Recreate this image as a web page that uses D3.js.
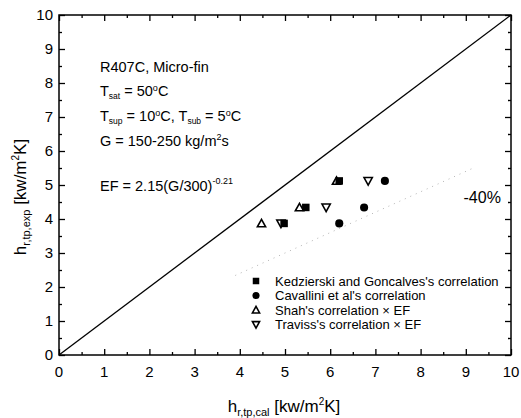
<!DOCTYPE html>
<html>
  <head>
    <meta charset="utf-8">
    <script src="https://d3js.org/d3.v7.min.js"></script>
    <style>
      body { margin: 0; background: #fff; }
      text { font-family: Arial, "Liberation Sans", sans-serif; fill: #000; }
    </style>
  </head>
<body>
  <script type="text/javascript">
    // experimental h values (y) shared by every correlation
    var hExp = [3.87, 4.34, 5.12];
    // calculated h values (x) per correlation
    var kedzierski = [4.98, 5.46, 6.20];
    var cavallini = [6.20, 6.75, 7.21];
    var shah = [4.48, 5.32, 6.14];
    var traviss = [4.91, 5.91, 6.84];
    var seriesNames = ["Kedzierski and Goncalves's correlation",
                       "Cavallini et al's correlation",
                       "Shah's correlation \u00d7 EF",
                       "Traviss's correlation \u00d7 EF"];
    var seriesX = [kedzierski, cavallini, shah, traviss];
    var seriesShape = ["square", "circle", "up", "down"];
    var majorTicks = [0, 1, 2, 3, 4, 5, 6, 7, 8, 9, 10];
    var minorTicks = [0.5, 1.5, 2.5, 3.5, 4.5, 5.5, 6.5, 7.5, 8.5, 9.5];
    var minus40 = [3.9, 9.15];

    var W = 521, H = 418;
    var m = {left: 59, top: 15, right: 10, bottom: 63};
    var w = W - m.left - m.right, h = H - m.top - m.bottom;

    var svg = d3.select("body").append("svg")
      .attr("width", W).attr("height", H);
    var g = svg.append("g").attr("transform", "translate(" + m.left + "," + m.top + ")");

    var x = d3.scaleLinear().domain([0, 10]).range([0, w]);
    var y = d3.scaleLinear().domain([0, 10]).range([h, 0]);

    // frame
    g.append("rect").attr("width", w).attr("height", h)
      .attr("fill", "none").attr("stroke", "#000").attr("stroke-width", 1.5);

    // ticks, all inward on four sides
    function ticks(axisFn, scale, vals, len, tr) {
      g.append("g").attr("transform", tr)
        .call(axisFn(scale).tickValues(vals).tickSize(len).tickFormat(""))
        .call(function(s){ s.select(".domain").remove(); s.selectAll("line").attr("stroke", "#000").attr("stroke-width", 1.3); });
    }
    ticks(d3.axisTop, x, majorTicks, 6, "translate(0," + h + ")");
    ticks(d3.axisTop, x, minorTicks, 3, "translate(0," + h + ")");
    ticks(d3.axisBottom, x, majorTicks, 6, "translate(0,0)");
    ticks(d3.axisBottom, x, minorTicks, 3, "translate(0,0)");
    ticks(d3.axisRight, y, majorTicks, 6, "translate(0,0)");
    ticks(d3.axisRight, y, minorTicks, 3, "translate(0,0)");
    ticks(d3.axisLeft, y, majorTicks, 6, "translate(" + w + ",0)");
    ticks(d3.axisLeft, y, minorTicks, 3, "translate(" + w + ",0)");

    // tick labels
    g.append("g").selectAll("text").data(majorTicks).join("text")
      .attr("x", function(d){ return x(d); }).attr("y", h + 22)
      .attr("text-anchor", "middle").attr("font-size", 15).text(function(d){ return d; });
    g.append("g").selectAll("text").data(majorTicks).join("text")
      .attr("x", -6).attr("y", function(d){ return y(d) + 5; })
      .attr("text-anchor", "end").attr("font-size", 15).text(function(d){ return d; });

    // y = x line
    var line = d3.line().x(function(d){ return x(d); }).y(function(d){ return y(d); });
    g.append("path").datum([0, 10]).attr("d", line)
      .attr("fill", "none").attr("stroke", "#000").attr("stroke-width", 1.3);

    // -40% line
    g.append("path").datum(minus40)
      .attr("d", d3.line().x(function(d){ return x(d); }).y(function(d){ return y(0.6 * d); }))
      .attr("fill", "none").attr("stroke", "#b5b5b5").attr("stroke-width", 1)
      .attr("stroke-dasharray", "1,5");
    g.append("text").attr("x", x(8.95)).attr("y", y(4.47))
      .attr("font-size", 16).text("-40%");

    // markers
    function marker(sel, shape, s) {
      if (shape === "square") {
        sel.append("rect").attr("x", -s/2).attr("y", -s/2).attr("width", s).attr("height", s).attr("fill", "#000");
      } else if (shape === "circle") {
        sel.append("circle").attr("r", s/2 + 0.3).attr("fill", "#000");
      } else {
        var k = shape === "up" ? 1 : -1;
        var pts = [[0, -k*s*0.55], [s*0.55, k*s*0.45], [-s*0.55, k*s*0.45]];
        sel.append("path").attr("d", "M" + pts.join("L") + "Z")
          .attr("fill", "none").attr("stroke", "#000").attr("stroke-width", 1.6);
      }
    }
    seriesX.forEach(function(xs, i) {
      var pts = xs.map(function(v, j){ return [v, hExp[j]]; });
      g.append("g").selectAll("g").data(pts).join("g")
        .attr("transform", function(d){ return "translate(" + x(d[0]) + "," + y(d[1]) + ")"; })
        .each(function(){ marker(d3.select(this), seriesShape[i], 7.5); });
    });

    // legend
    var lg = g.append("g").attr("transform", "translate(" + (256 - m.left) + "," + (281 - m.top) + ")");
    seriesNames.forEach(function(name, i) {
      var row = lg.append("g").attr("transform", "translate(0," + i * 14.5 + ")");
      marker(row, seriesShape[i], 6.5);
      row.append("text").attr("x", 19).attr("y", 4.5).attr("font-size", 13).text(name);
    });

    // annotations
    var ax = 100 - m.left;
    g.append("text").attr("x", ax).attr("y", 72 - m.top).attr("font-size", 14.5).text("R407C, Micro-fin");
    var t1 = g.append("text").attr("x", ax).attr("y", 96 - m.top).attr("font-size", 14.5);
    t1.append("tspan").text("T");
    t1.append("tspan").attr("font-size", 8.5).attr("dy", 3).text("sat");
    t1.append("tspan").attr("dy", -3).text(" = 50");
    t1.append("tspan").attr("font-size", 9).attr("dy", -5).text("o");
    t1.append("tspan").attr("dy", 5).text("C");
    var t2 = g.append("text").attr("x", ax).attr("y", 121 - m.top).attr("font-size", 14.5);
    t2.append("tspan").text("T");
    t2.append("tspan").attr("font-size", 8.5).attr("dy", 3).text("sup");
    t2.append("tspan").attr("dy", -3).text(" = 10");
    t2.append("tspan").attr("font-size", 9).attr("dy", -5).text("o");
    t2.append("tspan").attr("dy", 5).text("C, T");
    t2.append("tspan").attr("font-size", 8.5).attr("dy", 3).text("sub");
    t2.append("tspan").attr("dy", -3).text(" = 5");
    t2.append("tspan").attr("font-size", 9).attr("dy", -5).text("o");
    t2.append("tspan").attr("dy", 5).text("C");
    var t3 = g.append("text").attr("x", ax).attr("y", 146 - m.top).attr("font-size", 14.5);
    t3.append("tspan").text("G = 150-250 kg/m");
    t3.append("tspan").attr("font-size", 9).attr("dy", -6).text("2");
    t3.append("tspan").attr("dy", 6).text("s");
    var t4 = g.append("text").attr("x", ax).attr("y", 191 - m.top).attr("font-size", 14.5);
    t4.append("tspan").text("EF = 2.15(G/300)");
    t4.append("tspan").attr("font-size", 9).attr("dy", -7).text("-0.21");

    // axis titles
    function axisTitle(t, subTxt) {
      t.append("tspan").text("h");
      t.append("tspan").attr("font-size", 11).attr("dy", 4).text(subTxt);
      t.append("tspan").attr("dy", -4).text(" [kw/m");
      t.append("tspan").attr("font-size", 10).attr("dy", -7).text("2");
      t.append("tspan").attr("dy", 7).text("K]");
    }
    axisTitle(svg.append("text").attr("x", 284).attr("y", 412)
      .attr("text-anchor", "middle").attr("font-size", 17), "r,tp,cal");
    axisTitle(svg.append("text").attr("transform", "translate(26,197) rotate(-90)")
      .attr("text-anchor", "middle").attr("font-size", 17), "r,tp,exp");
  </script>
</body>
</html>
